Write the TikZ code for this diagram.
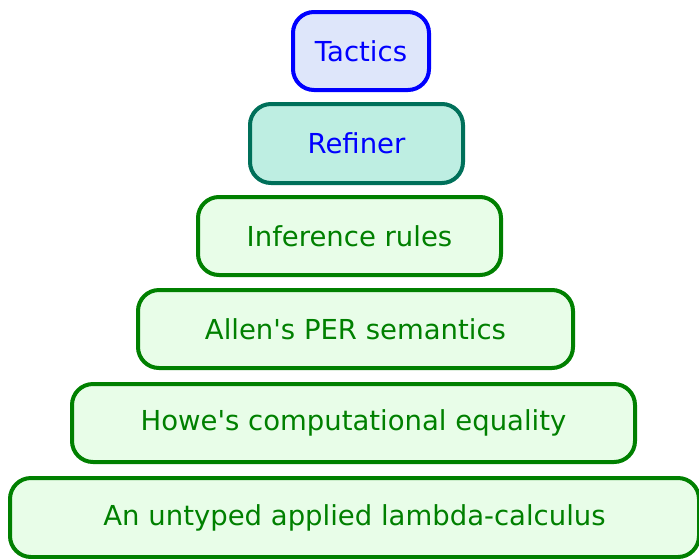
\documentclass[tikz,border=0pt]{standalone}
\usepackage{fontspec}
\setmainfont{DejaVu Sans}
\definecolor{tacfill}{RGB}{222,230,250}
\definecolor{tacline}{RGB}{0,0,255}
\definecolor{reffill}{RGB}{190,238,226}
\definecolor{refline}{RGB}{0,112,90}
\definecolor{grfill}{RGB}{232,253,232}
\definecolor{grline}{RGB}{0,128,0}
\tikzset{
  layer/.style={draw, line width=4pt, rounded corners=21pt, inner sep=0pt,
    font=\fontsize{27.5}{32}\selectfont, anchor=center},
  tacbox/.style={layer, fill=tacfill, draw=tacline, text=tacline},
  refbox/.style={layer, fill=reffill, draw=refline, text=tacline},
  grbox/.style={layer, fill=grfill, draw=grline, text=grline},
}
\begin{document}
\begin{tikzpicture}[x=1pt,y=-1pt]
\useasboundingbox (0,0) rectangle (699,558);
\node[tacbox, minimum width=136pt, minimum height=78pt] (tac) at (361,51) {Tactics};
\node[refbox, minimum width=213pt, minimum height=79pt] (ref) at (356.5,143.5) {Refiner};
\node[grbox, minimum width=303pt, minimum height=78pt] (inf) at (349.5,236) {Inference rules};
\node[grbox, minimum width=435pt, minimum height=78pt] (per) at (355.5,329) {Allen\textquotesingle s PER semantics};
\node[grbox, minimum width=563pt, minimum height=78pt] (howe) at (353.5,423) {Howe\textquotesingle s computational equality};
\node[grbox, minimum width=689pt, minimum height=79pt] (lam) at (354.5,517.5) {An untyped applied lambda-calculus};
\end{tikzpicture}
\end{document}
